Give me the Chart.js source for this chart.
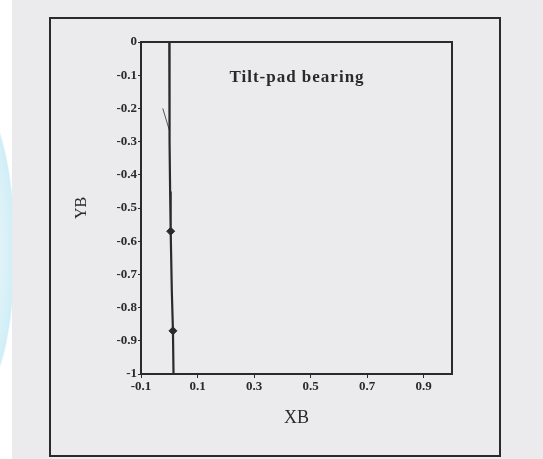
<!DOCTYPE html>
<html lang="en">
<head>
    <meta charset="UTF-8">
    <title>Tilt-pad bearing</title>
    <script src="https://cdn.jsdelivr.net/npm/chart.js"></script>
    <style>
        html, body {
            margin: 0;
            padding: 0;
        }
        body {
            width: 543px;
            height: 459px;
            overflow: hidden;
            background:
                linear-gradient(to right, transparent 12px, #ebebed 12px),
                radial-gradient(ellipse 40px 165px at -20px 250px, #eaf6fa 0%, #ddf2f8 60%, #d0eef7 85%, #ffffff 88%);
        }
        #wrap {
            position: absolute;
            left: 0;
            top: 0;
            width: 543px;
            height: 459px;
        }
    </style>
</head>
<body>
    <div id="wrap">
        <canvas id="chartOrbita" width="543" height="459"></canvas>
    </div>

    <script>
        // Datos (trayectoria del centro del cojinete)
        const orbitaX = [0, 0, 0.001, 0.002, 0.003, 0.005, 0.009, 0.013, 0.015];
        const orbitaY = [0, -0.1, -0.2, -0.3, -0.45, -0.57, -0.75, -0.87, -1];

        // tramo corto al inicio
        const tramoX = [-0.023, 0];
        const tramoY = [-0.2, -0.265];

        // marcadores
        const marcaX = [0.005, 0.013];
        const marcaY = [-0.57, -0.87];

        // ticks
        const ticksX = [-0.1, 0.1, 0.3, 0.5, 0.7, 0.9];
        const ticksY = [0, -0.1, -0.2, -0.3, -0.4, -0.5, -0.6, -0.7, -0.8, -0.9, -1];

        const tinta = '#2a2a2a';
        const fuente = "'Liberation Serif', 'DejaVu Serif', serif";

        const pares = (xs, ys) => xs.map((x, i) => ({ x: x, y: ys[i] }));

        // marco exterior, caja del grafico y rotulo
        const marcoPlugin = {
            id: 'marco',
            afterDraw(chart) {
                const ctx = chart.ctx;
                const a = chart.chartArea;
                ctx.save();
                ctx.strokeStyle = tinta;
                ctx.lineWidth = 2;
                ctx.strokeRect(50, 18, 450, 438);
                ctx.strokeRect(a.left, a.top, a.right - a.left, a.bottom - a.top);
                ctx.fillStyle = tinta;
                ctx.font = 'bold 17px ' + fuente;
                ctx.letterSpacing = '1px';
                ctx.textAlign = 'center';
                ctx.textBaseline = 'middle';
                ctx.fillText('Tilt-pad bearing', 297, 78);
                ctx.restore();
            }
        };

        new Chart(document.getElementById('chartOrbita'), {
            type: 'scatter',
            data: {
                datasets: [
                    {
                        data: pares(orbitaX, orbitaY),
                        showLine: true,
                        borderColor: tinta,
                        borderWidth: 2.2,
                        pointRadius: 0
                    },
                    {
                        data: pares(tramoX, tramoY),
                        showLine: true,
                        borderColor: '#555',
                        borderWidth: 1,
                        pointRadius: 0
                    },
                    {
                        data: pares(marcaX, marcaY),
                        showLine: false,
                        pointStyle: 'rectRot',
                        pointRadius: 4,
                        backgroundColor: tinta,
                        borderColor: tinta
                    }
                ]
            },
            plugins: [marcoPlugin],
            options: {
                responsive: false,
                animation: false,
                layout: {
                    padding: { left: 72, top: 42, right: 91, bottom: 30 }
                },
                plugins: {
                    legend: { display: false },
                    tooltip: { enabled: false }
                },
                scales: {
                    x: {
                        type: 'linear',
                        min: -0.1,
                        max: 1.0,
                        afterFit: (s) => { s.height = 55; },
                        afterBuildTicks: (s) => { s.ticks = ticksX.map(v => ({ value: v })); },
                        border: { display: false },
                        grid: { drawOnChartArea: false, tickLength: 4, color: tinta },
                        ticks: {
                            color: tinta,
                            font: { family: fuente, size: 13, weight: 'bold' },
                            padding: 1,
                            maxRotation: 0,
                            callback: (v) => String(Math.round(v * 10) / 10)
                        },
                        title: {
                            display: true,
                            text: 'XB',
                            color: tinta,
                            font: { family: fuente, size: 18 },
                            padding: { top: 2, bottom: 0 }
                        }
                    },
                    y: {
                        type: 'linear',
                        min: -1,
                        max: 0,
                        afterFit: (s) => { s.width = 69; },
                        afterBuildTicks: (s) => { s.ticks = ticksY.map(v => ({ value: v })); },
                        border: { display: false },
                        grid: { drawOnChartArea: false, tickLength: 3, color: tinta },
                        ticks: {
                            color: tinta,
                            font: { family: fuente, size: 13, weight: 'bold' },
                            padding: 1,
                            callback: (v) => String(Math.round(v * 10) / 10)
                        },
                        title: {
                            display: true,
                            text: 'YB',
                            color: tinta,
                            font: { family: fuente, size: 16 },
                            padding: { top: 0, bottom: 0 }
                        }
                    }
                }
            }
        });
    </script>
</body>
</html>
